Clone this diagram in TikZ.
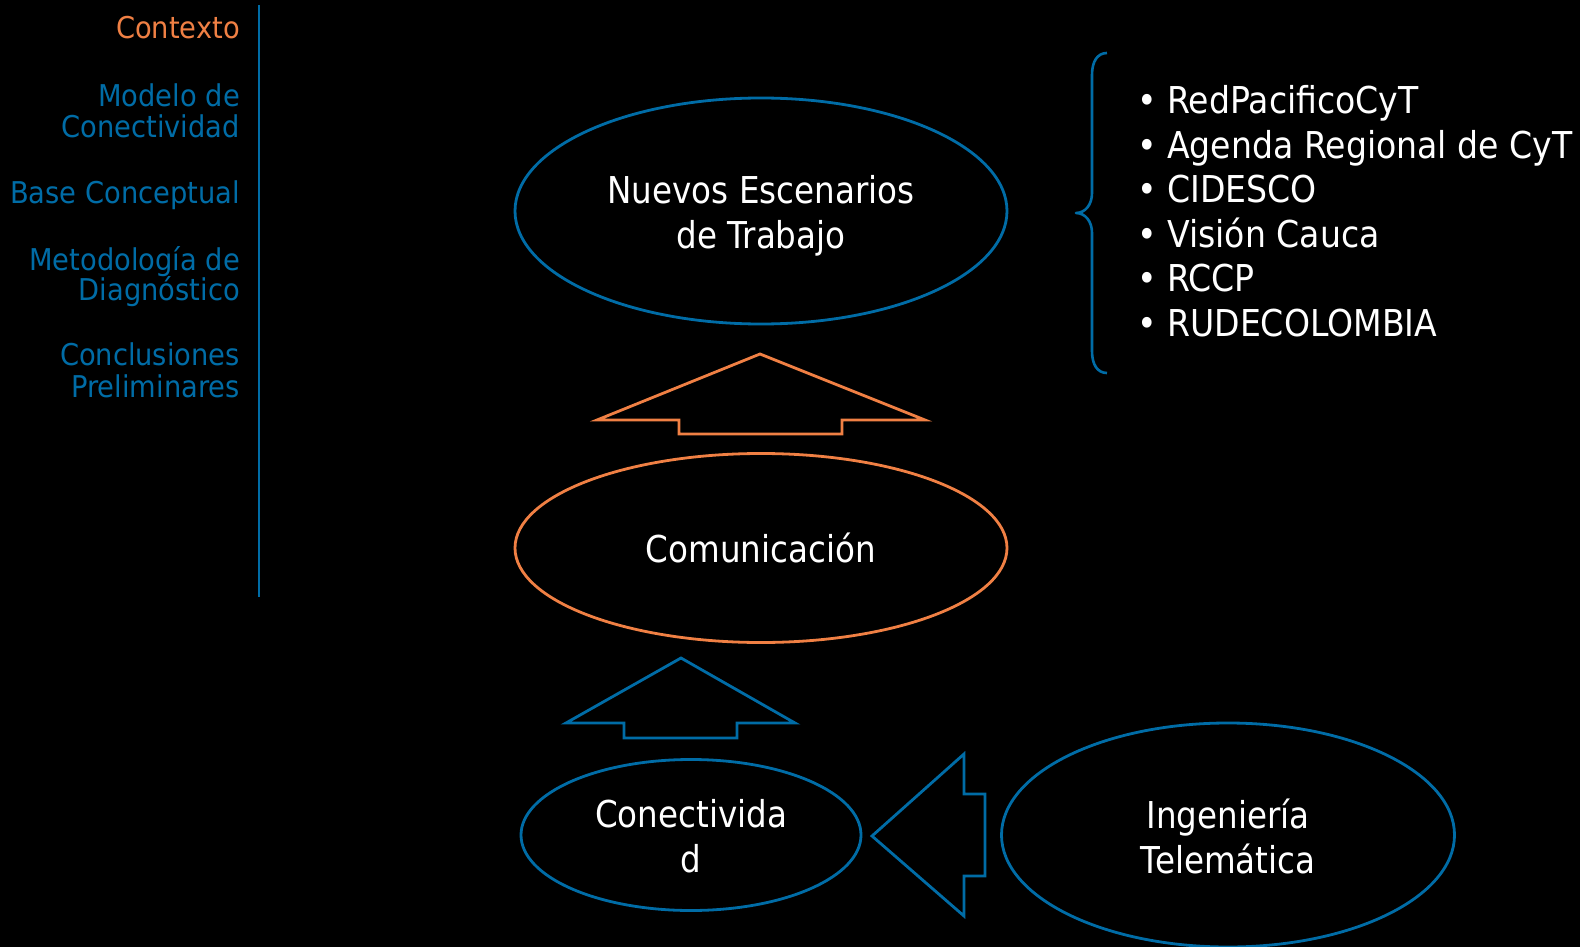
\documentclass[tikz,border=0pt]{standalone}
\usepackage{fontspec}
\setmainfont[FakeStretch=0.88]{DejaVu Sans}
\newfontfamily\menufont[FakeStretch=0.91]{DejaVu Sans}
\newfontfamily\listfont[FakeStretch=0.895]{DejaVu Sans}
\usetikzlibrary{shapes.geometric}
\definecolor{bgblack}{RGB}{0,0,0}
\definecolor{myblue}{RGB}{0,108,166}
\definecolor{myorange}{RGB}{240,128,68}
\tikzset{
  menuitem/.style={anchor=base east, inner sep=0pt, text=myblue, font=\menufont\fontsize{30}{31}\selectfont},
  listitem/.style={anchor=base west, inner sep=0pt, text=white, font=\listfont\fontsize{37}{44}\selectfont},
  ellbox/.style={ellipse, draw, line width=2.8pt, inner sep=0pt, text=white, align=center, font=\fontsize{37}{45}\selectfont},
  blockarrow/.style={line width=2.8pt, line join=miter},
}
\begin{document}
\begin{tikzpicture}[x=1pt,y=-1pt]
\fill[bgblack] (0,0) rectangle (1580,947);
\useasboundingbox (0,0) rectangle (1580,947);

% left menu
\node[menuitem, text=myorange] (m1) at (240,38.3) {Contexto};
\node[menuitem] (m2a) at (240,106.7) {Modelo de};
\node[menuitem] (m2b) at (240,137.3) {Conectividad};
\node[menuitem] (m3) at (240,203.3) {Base Conceptual};
\node[menuitem] (m4a) at (240,270) {Metodología de};
\node[menuitem] (m4b) at (240,300.5) {Diagnóstico};
\node[menuitem] (m5a) at (240,365.5) {Conclusiones};
\node[menuitem] (m5b) at (240,397.5) {Preliminares};
\coordinate (vtop) at (259,5);
\coordinate (vbot) at (259,597);
\draw[myblue, line width=2.8pt] (vtop) -- (vbot);

% ellipses
\node[ellbox, draw=myblue, minimum width=492, minimum height=226] (nuevos) at (761,211) {\rule{0pt}{37pt}Nuevos Escenarios\\de Trabajo};
\node[ellbox, draw=myorange, minimum width=492, minimum height=189] (comun) at (761,548) {Comunicación};
\node[ellbox, draw=myblue, minimum width=340, minimum height=151] (conec) at (691,835) {\rule{0pt}{31pt}Conectivida\\d};
\node[ellbox, draw=myblue, minimum width=453, minimum height=224] (inge) at (1228,835) {\rule{0pt}{32pt}Ingeniería\\Telemática};

% block arrows
\draw[blockarrow, myorange] (760,354) -- (925,420) -- (842,420) -- (842,434) -- (679,434) -- (679,420) -- (597,420) -- cycle;
\draw[blockarrow, myblue] (681,658) -- (795,723) -- (737,723) -- (737,738) -- (624,738) -- (624,723) -- (566,723) -- cycle;
\draw[blockarrow, myblue] (872,836) -- (964,754) -- (964,794) -- (985,794) -- (985,876) -- (964,876) -- (964,916) -- cycle;

% brace
\draw[myblue, line width=2.6pt, line join=round] (1107,53) .. controls (1097,53) and (1092,62) .. (1092,75) -- (1092,193) .. controls (1092,205) and (1085,213) .. (1076,213) .. controls (1085,213) and (1092,221) .. (1092,233) -- (1092,351) .. controls (1092,364) and (1097,373) .. (1107,373);

% list
\node[listitem] (l1) at (1137,114) {• RedPacificoCyT};
\node[listitem] (l2) at (1137,158.3) {• Agenda Regional de CyT};
\node[listitem] (l3) at (1137,202.5) {• CIDESCO};
\node[listitem] (l4) at (1137,247) {• Visión Cauca};
\node[listitem] (l5) at (1137,291.5) {• RCCP};
\node[listitem] (l6) at (1137,336.5) {• RUDECOLOMBIA};
\end{tikzpicture}
\end{document}
